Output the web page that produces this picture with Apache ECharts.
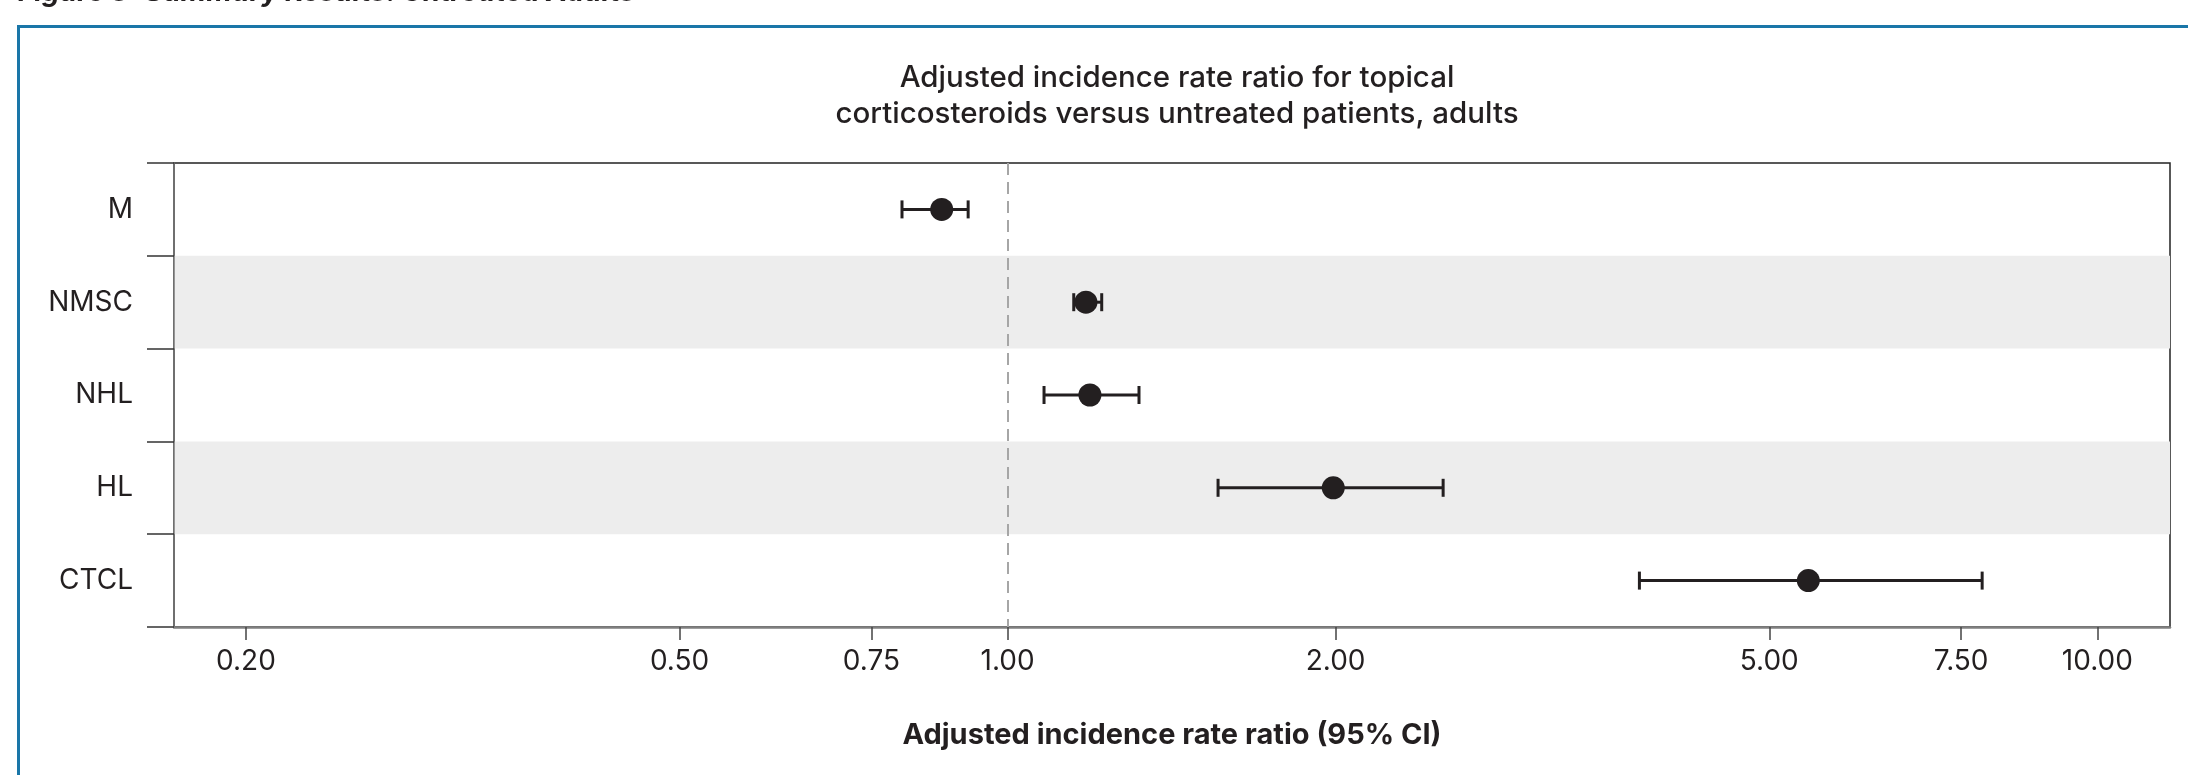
<!DOCTYPE html>
<html>
<head>
<meta charset="utf-8">
<script src="https://cdn.jsdelivr.net/npm/echarts@6/dist/echarts.min.js"></script>
<style>
  html, body { margin: 0; padding: 0; background: #fff; }
  #chart { width: 2188px; height: 775px; }
</style>
</head>
<body>
<div id="chart"></div>
<script>
  // rows from top to bottom
  const categories = ['M', 'NMSC', 'NHL', 'HL', 'CTCL'];
  // adjusted incidence rate ratio and its 95% CI
  const estimate = [0.87, 1.18, 1.19, 1.99, 5.43];
  const lower = [0.80, 1.15, 1.08, 1.56, 3.80];
  const upper = [0.92, 1.22, 1.32, 2.51, 7.84];
  const tickValues = [0.2, 0.5, 0.75, 1, 2, 5, 7.5, 10];

  const ink = '#231f20';
  const font = 'Inter';

  const chart = echarts.init(document.getElementById('chart'));

  const option = {
    backgroundColor: '#fff',
    animation: false,
    textStyle: { fontFamily: font, color: ink },
    title: {
      text: 'Adjusted incidence rate ratio for topical\ncorticosteroids versus untreated patients, adults',
      left: 1172,
      top: 55,
      textAlign: 'center',
      textStyle: { fontFamily: font, fontSize: 29.5, fontWeight: 500, lineHeight: 36, color: ink }
    },
    graphic: [
      {
        type: 'text',
        left: 18,
        top: -21,
        style: {
          text: 'Figure 3: Summary Results: Untreated Adults',
          font: 'italic bold 28px ' + font,
          fill: ink
        }
      },
      {
        type: 'rect',
        shape: { x: 18.5, y: 26.5, width: 2300, height: 900 },
        style: { fill: 'none', stroke: '#1a76a8', lineWidth: 3 },
        silent: true
      }
    ],
    grid: {
      left: 174,
      right: 18,
      top: 163,
      bottom: 148,
      show: true,
      borderColor: '#222',
      borderWidth: 1.5,
      backgroundColor: 'transparent'
    },
    xAxis: {
      type: 'log',
      logBase: 2,
      min: 0.1718,
      max: 11.66,
      name: 'Adjusted incidence rate ratio (95% CI)',
      nameLocation: 'middle',
      nameGap: 94,
      nameTextStyle: { fontFamily: font, fontSize: 29, fontWeight: 'bold', color: ink },
      axisLine: { show: true, lineStyle: { color: '#808080', width: 2.5 } },
      axisTick: { show: true, length: 13, customValues: tickValues, lineStyle: { color: '#444', width: 1.5 } },
      axisLabel: {
        customValues: tickValues,
        margin: 21,
        fontFamily: font,
        fontSize: 28,
        color: ink,
        formatter: v => Number(v).toFixed(2)
      },
      splitLine: { show: false },
      minorTick: { show: false },
      minorSplitLine: { show: false }
    },
    yAxis: {
      type: 'category',
      data: categories,
      inverse: true,
      axisLine: { show: true, lineStyle: { color: '#777', width: 1.5 } },
      axisTick: { show: true, length: 27, lineStyle: { color: '#333', width: 1.5 } },
      axisLabel: { margin: 41, fontFamily: font, fontSize: 28, color: ink },
      splitLine: { show: false },
      splitArea: { show: true, areaStyle: { color: ['rgba(0,0,0,0)', '#ededed'] } }
    },
    series: [
      {
        type: 'custom',
        name: 'CI',
        data: categories.map((c, i) => [lower[i], upper[i], c]),
        encode: { x: [0, 1], y: 2 },
        renderItem: function (params, api) {
          const row = api.value(2);
          const a = api.coord([api.value(0), row]);
          const b = api.coord([api.value(1), row]);
          const h = 9;
          const style = { stroke: ink, lineWidth: 3 };
          return {
            type: 'group',
            children: [
              { type: 'line', shape: { x1: a[0], y1: a[1], x2: b[0], y2: b[1] }, style: style },
              { type: 'line', shape: { x1: a[0], y1: a[1] - h, x2: a[0], y2: a[1] + h }, style: style },
              { type: 'line', shape: { x1: b[0], y1: b[1] - h, x2: b[0], y2: b[1] + h }, style: style }
            ]
          };
        },
        z: 3
      },
      {
        type: 'scatter',
        name: 'IRR',
        data: categories.map((c, i) => [estimate[i], c]),
        symbol: 'circle',
        symbolSize: 23,
        itemStyle: { color: ink, opacity: 1 },
        z: 4,
        markLine: {
          silent: true,
          symbol: 'none',
          label: { show: false },
          lineStyle: { color: '#a6a6a6', width: 2, type: [12, 7] },
          data: [{ xAxis: 1 }]
        }
      }
    ]
  };

  chart.setOption(option);
</script>
</body>
</html>
